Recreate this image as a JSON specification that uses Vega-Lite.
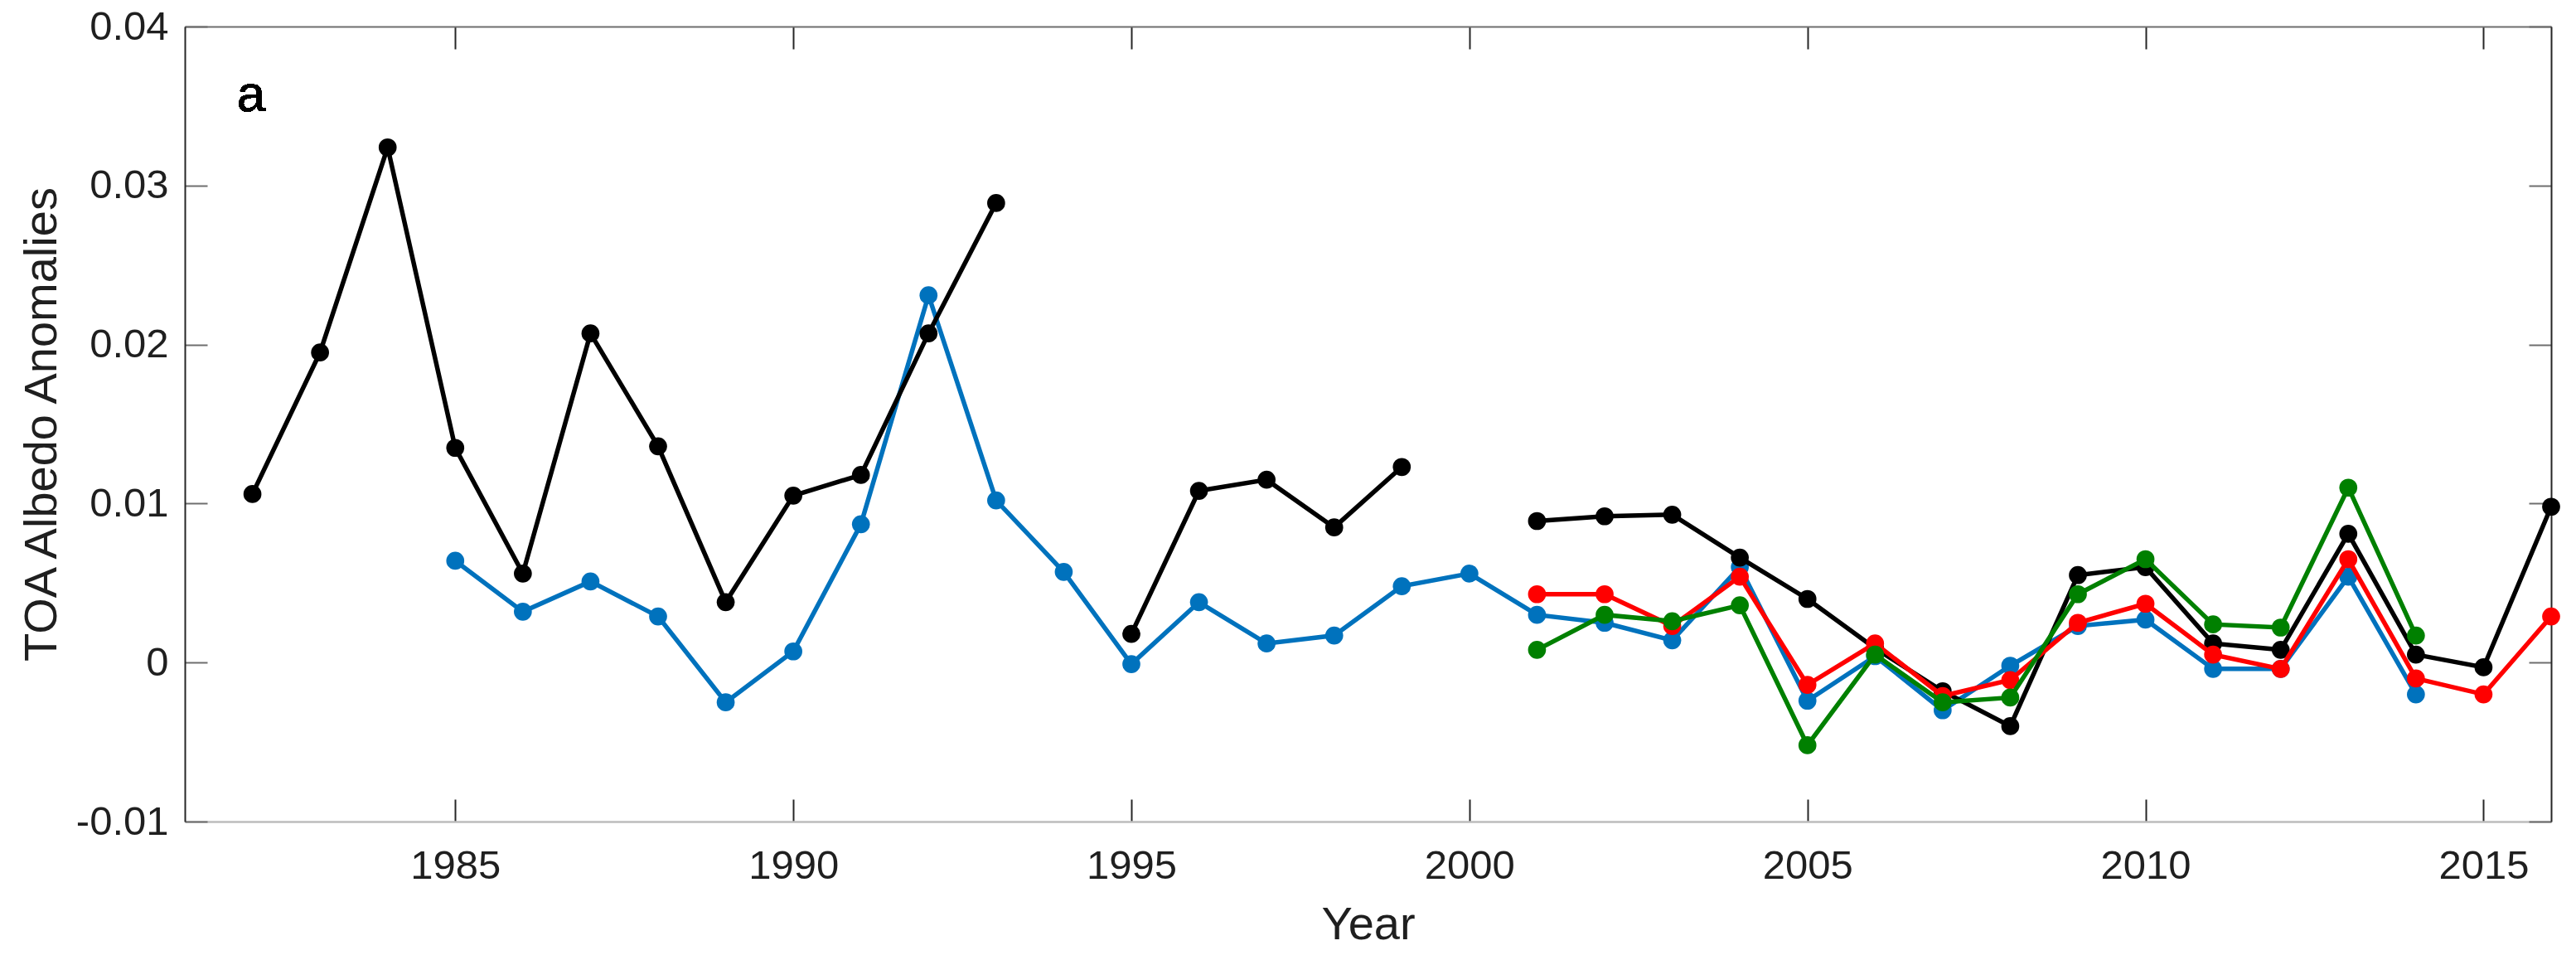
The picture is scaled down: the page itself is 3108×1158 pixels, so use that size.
{
  "$schema": "https://vega.github.io/schema/vega-lite/v6.json",
  "width": 2855,
  "height": 959,
  "autosize": {"type": "none"},
  "padding": {"left": 223, "top": 32, "right": 30, "bottom": 167},
  "background": "white",
  "config": {"view": {"stroke": null}, "font": "Liberation Sans"},
  "data": {"values": [
    {"series": "S1", "seg": 1, "year": 1982, "v": 0.0106},
    {"series": "S1", "seg": 1, "year": 1983, "v": 0.0195},
    {"series": "S1", "seg": 1, "year": 1984, "v": 0.0324},
    {"series": "S1", "seg": 1, "year": 1985, "v": 0.0135},
    {"series": "S1", "seg": 1, "year": 1986, "v": 0.0056},
    {"series": "S1", "seg": 1, "year": 1987, "v": 0.0207},
    {"series": "S1", "seg": 1, "year": 1988, "v": 0.0136},
    {"series": "S1", "seg": 1, "year": 1989, "v": 0.0038},
    {"series": "S1", "seg": 1, "year": 1990, "v": 0.0105},
    {"series": "S1", "seg": 1, "year": 1991, "v": 0.0118},
    {"series": "S1", "seg": 1, "year": 1992, "v": 0.0207},
    {"series": "S1", "seg": 1, "year": 1993, "v": 0.0289},
    {"series": "S1", "seg": 2, "year": 1995, "v": 0.0018},
    {"series": "S1", "seg": 2, "year": 1996, "v": 0.0108},
    {"series": "S1", "seg": 2, "year": 1997, "v": 0.0115},
    {"series": "S1", "seg": 2, "year": 1998, "v": 0.0085},
    {"series": "S1", "seg": 2, "year": 1999, "v": 0.0123},
    {"series": "S1", "seg": 3, "year": 2001, "v": 0.0089},
    {"series": "S1", "seg": 3, "year": 2002, "v": 0.0092},
    {"series": "S1", "seg": 3, "year": 2003, "v": 0.0093},
    {"series": "S1", "seg": 3, "year": 2004, "v": 0.0066},
    {"series": "S1", "seg": 3, "year": 2005, "v": 0.0040},
    {"series": "S1", "seg": 3, "year": 2006, "v": 0.0009},
    {"series": "S1", "seg": 3, "year": 2007, "v": -0.0018},
    {"series": "S1", "seg": 3, "year": 2008, "v": -0.0040},
    {"series": "S1", "seg": 3, "year": 2009, "v": 0.0055},
    {"series": "S1", "seg": 3, "year": 2010, "v": 0.0060},
    {"series": "S1", "seg": 3, "year": 2011, "v": 0.0012},
    {"series": "S1", "seg": 3, "year": 2012, "v": 0.0008},
    {"series": "S1", "seg": 3, "year": 2013, "v": 0.0081},
    {"series": "S1", "seg": 3, "year": 2014, "v": 0.0005},
    {"series": "S1", "seg": 3, "year": 2015, "v": -0.0003},
    {"series": "S1", "seg": 3, "year": 2016, "v": 0.0098},
    {"series": "S2", "seg": 1, "year": 1985, "v": 0.0064},
    {"series": "S2", "seg": 1, "year": 1986, "v": 0.0032},
    {"series": "S2", "seg": 1, "year": 1987, "v": 0.0051},
    {"series": "S2", "seg": 1, "year": 1988, "v": 0.0029},
    {"series": "S2", "seg": 1, "year": 1989, "v": -0.0025},
    {"series": "S2", "seg": 1, "year": 1990, "v": 0.0007},
    {"series": "S2", "seg": 1, "year": 1991, "v": 0.0087},
    {"series": "S2", "seg": 1, "year": 1992, "v": 0.0231},
    {"series": "S2", "seg": 1, "year": 1993, "v": 0.0102},
    {"series": "S2", "seg": 1, "year": 1994, "v": 0.0057},
    {"series": "S2", "seg": 1, "year": 1995, "v": -0.0001},
    {"series": "S2", "seg": 1, "year": 1996, "v": 0.0038},
    {"series": "S2", "seg": 1, "year": 1997, "v": 0.0012},
    {"series": "S2", "seg": 1, "year": 1998, "v": 0.0017},
    {"series": "S2", "seg": 1, "year": 1999, "v": 0.0048},
    {"series": "S2", "seg": 1, "year": 2000, "v": 0.0056},
    {"series": "S2", "seg": 1, "year": 2001, "v": 0.0030},
    {"series": "S2", "seg": 1, "year": 2002, "v": 0.0025},
    {"series": "S2", "seg": 1, "year": 2003, "v": 0.0014},
    {"series": "S2", "seg": 1, "year": 2004, "v": 0.0060},
    {"series": "S2", "seg": 1, "year": 2005, "v": -0.0024},
    {"series": "S2", "seg": 1, "year": 2006, "v": 0.0004},
    {"series": "S2", "seg": 1, "year": 2007, "v": -0.0030},
    {"series": "S2", "seg": 1, "year": 2008, "v": -0.0002},
    {"series": "S2", "seg": 1, "year": 2009, "v": 0.0023},
    {"series": "S2", "seg": 1, "year": 2010, "v": 0.0027},
    {"series": "S2", "seg": 1, "year": 2011, "v": -0.0004},
    {"series": "S2", "seg": 1, "year": 2012, "v": -0.0004},
    {"series": "S2", "seg": 1, "year": 2013, "v": 0.0054},
    {"series": "S2", "seg": 1, "year": 2014, "v": -0.0020},
    {"series": "S3", "seg": 1, "year": 2001, "v": 0.0043},
    {"series": "S3", "seg": 1, "year": 2002, "v": 0.0043},
    {"series": "S3", "seg": 1, "year": 2003, "v": 0.0023},
    {"series": "S3", "seg": 1, "year": 2004, "v": 0.0054},
    {"series": "S3", "seg": 1, "year": 2005, "v": -0.0014},
    {"series": "S3", "seg": 1, "year": 2006, "v": 0.0012},
    {"series": "S3", "seg": 1, "year": 2007, "v": -0.0021},
    {"series": "S3", "seg": 1, "year": 2008, "v": -0.0011},
    {"series": "S3", "seg": 1, "year": 2009, "v": 0.0025},
    {"series": "S3", "seg": 1, "year": 2010, "v": 0.0037},
    {"series": "S3", "seg": 1, "year": 2011, "v": 0.0005},
    {"series": "S3", "seg": 1, "year": 2012, "v": -0.0004},
    {"series": "S3", "seg": 1, "year": 2013, "v": 0.0065},
    {"series": "S3", "seg": 1, "year": 2014, "v": -0.0010},
    {"series": "S3", "seg": 1, "year": 2015, "v": -0.0020},
    {"series": "S3", "seg": 1, "year": 2016, "v": 0.0029},
    {"series": "S4", "seg": 1, "year": 2001, "v": 0.0008},
    {"series": "S4", "seg": 1, "year": 2002, "v": 0.0030},
    {"series": "S4", "seg": 1, "year": 2003, "v": 0.0026},
    {"series": "S4", "seg": 1, "year": 2004, "v": 0.0036},
    {"series": "S4", "seg": 1, "year": 2005, "v": -0.0052},
    {"series": "S4", "seg": 1, "year": 2006, "v": 0.0005},
    {"series": "S4", "seg": 1, "year": 2007, "v": -0.0025},
    {"series": "S4", "seg": 1, "year": 2008, "v": -0.0022},
    {"series": "S4", "seg": 1, "year": 2009, "v": 0.0043},
    {"series": "S4", "seg": 1, "year": 2010, "v": 0.0065},
    {"series": "S4", "seg": 1, "year": 2011, "v": 0.0024},
    {"series": "S4", "seg": 1, "year": 2012, "v": 0.0022},
    {"series": "S4", "seg": 1, "year": 2013, "v": 0.0110},
    {"series": "S4", "seg": 1, "year": 2014, "v": 0.0017}
  ]},
  "layer": [
    {
      "encoding": {
        "x": {
          "field": "year", "type": "quantitative",
          "scale": {"domain": [1981, 2016], "nice": false, "zero": false},
          "axis": {
            "title": "Year", "titleFontSize": 56, "titleFontWeight": "normal", "titleColor": "#1f1f1f", "titlePadding": 19,
            "values": [1985, 1990, 1995, 2000, 2005, 2010, 2015], "format": "d",
            "labelFontSize": 49, "labelColor": "#1f1f1f", "labelPadding": 56,
            "tickSize": -27, "tickWidth": 2, "tickColor": "#262626",
            "domainColor": "#bdbdbd", "domainWidth": 2.5, "grid": false, "labelFlush": false
          }
        },
        "y": {
          "field": "v", "type": "quantitative",
          "scale": {"domain": [-0.01, 0.04], "nice": false, "zero": false},
          "axis": {
            "title": "TOA Albedo Anomalies", "titleFontSize": 56, "titleFontWeight": "normal", "titleColor": "#1f1f1f", "titlePadding": 12,
            "values": [-0.01, 0, 0.01, 0.02, 0.03, 0.04],
            "labelExpr": "(datum.value < 0 ? '-' : '') + format(abs(datum.value), '.2~f')",
            "labelFontSize": 49, "labelColor": "#1f1f1f", "labelPadding": 47,
            "tickSize": -27, "tickWidth": 2, "tickColor": "#6e6e6e",
            "domainColor": "#262626", "domainWidth": 2, "grid": false, "labelFlush": false
          }
        },
        "detail": {"field": "seg", "type": "nominal"}
      },
      "layer": [
        {
          "transform": [{"filter": "datum.series == 'S2'"}],
          "mark": {"type": "line", "color": "#0072BD", "strokeWidth": 5.5, "point": {"filled": true, "size": 470, "color": "#0072BD", "opacity": 1}}
        },
        {
          "transform": [{"filter": "datum.series == 'S1'"}],
          "mark": {"type": "line", "color": "#000000", "strokeWidth": 5.5, "point": {"filled": true, "size": 470, "color": "#000000", "opacity": 1}}
        },
        {
          "transform": [{"filter": "datum.series == 'S3'"}],
          "mark": {"type": "line", "color": "#FF0000", "strokeWidth": 5.5, "point": {"filled": true, "size": 470, "color": "#FF0000", "opacity": 1}}
        },
        {
          "transform": [{"filter": "datum.series == 'S4'"}],
          "mark": {"type": "line", "color": "#008000", "strokeWidth": 5.5, "point": {"filled": true, "size": 470, "color": "#008000", "opacity": 1}}
        }
      ]
    },
    {
      "transform": [{"filter": "datum.series == 'S1'"}],
      "mark": {"type": "point", "opacity": 0},
      "encoding": {
        "x": {
          "field": "year", "type": "quantitative",
          "scale": {"domain": [1981, 2016], "nice": false, "zero": false},
          "axis": {
            "orient": "top", "title": null, "labels": false,
            "values": [1985, 1990, 1995, 2000, 2005, 2010, 2015],
            "tickSize": -27, "tickWidth": 2, "tickColor": "#262626",
            "domainColor": "#6e6e6e", "domainWidth": 2, "grid": false
          }
        },
        "y": {
          "field": "v", "type": "quantitative",
          "scale": {"domain": [-0.01, 0.04], "nice": false, "zero": false},
          "axis": {
            "orient": "right", "title": null, "labels": false,
            "values": [-0.01, 0, 0.01, 0.02, 0.03, 0.04],
            "tickSize": -27, "tickWidth": 2, "tickColor": "#6e6e6e",
            "domainColor": "#262626", "domainWidth": 2, "grid": false
          }
        }
      }
    },
    {
      "mark": {"type": "text", "text": "a", "fontSize": 62, "align": "left", "baseline": "alphabetic", "color": "#000000", "font": "Liberation Sans"},
      "encoding": {
        "x": {"datum": 1981.77, "type": "quantitative", "axis": null},
        "y": {"datum": 0.0347, "type": "quantitative", "axis": null}
      }
    }
  ],
  "resolve": {"axis": {"x": "independent", "y": "independent"}}
}
